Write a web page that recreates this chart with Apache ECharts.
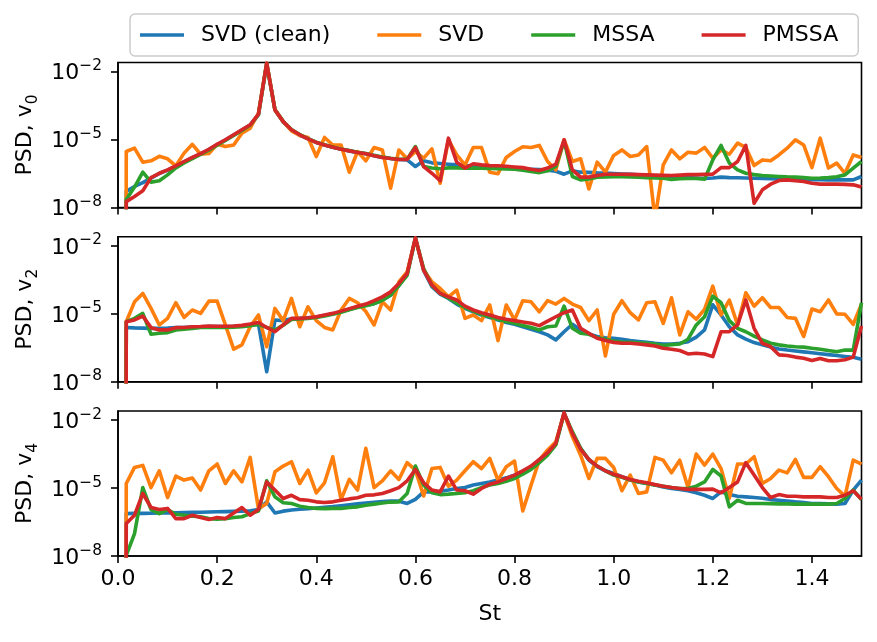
<!DOCTYPE html>
<html><head><meta charset="utf-8">
<script src="https://cdn.jsdelivr.net/npm/echarts@6/dist/echarts.min.js"></script>
<style>html,body{margin:0;padding:0;background:#fff}#c{width:877px;height:642px}</style>
</head><body><div id="c"></div>
<script>
// Frequency bins (Strouhal number), spacing 1/60, from 0 to 1.5
const st = Array.from({length: 91}, (_, i) => i / 60);
// PSD at St = 0 is zero for every series (drawn clipped, like a log plot does)
const psdAtZero = 0;
// log10(PSD) for bins St = 1/60 ... 90/60
const v0_svdClean = [-7.29,-7.07,-6.9,-6.7,-6.5,-6.35,-6.17,-5.98,-5.8,-5.63,
-5.44,-5.22,-5.02,-4.8,-4.58,-4.36,-3.9,-1.65,-3.7,-4.22,
-4.58,-4.8,-4.97,-5.13,-5.24,-5.34,-5.43,-5.5,-5.57,-5.63,
-5.72,-5.79,-5.84,-5.88,-5.9,-6.19,-5.94,-6.03,-6.06,-6.09,
-6.12,-6.15,-6.17,-6.19,-6.21,-6.23,-6.25,-6.27,-6.29,-6.31,
-6.33,-6.35,-6.4,-6.53,-6.38,-6.44,-6.45,-6.47,-6.48,-6.5,
-6.52,-6.54,-6.56,-6.58,-6.6,-6.62,-6.64,-6.66,-6.68,-6.7,
-6.72,-6.7,-6.66,-6.68,-6.69,-6.7,-6.71,-6.72,-6.73,-6.74,
-6.75,-6.76,-6.76,-6.77,-6.77,-6.78,-6.78,-6.78,-6.78,-6.63];
const v0_svd = [-5.53,-5.38,-6.0,-5.94,-5.74,-5.85,-6.16,-5.6,-5.21,-5.65,
-5.62,-5.21,-5.31,-5.24,-4.72,-4.5,-3.84,-1.63,-3.69,-4.21,
-4.62,-4.82,-4.91,-5.75,-4.91,-5.24,-5.24,-6.44,-5.53,-5.94,
-5.35,-5.46,-7.15,-5.46,-5.85,-5.53,-5.82,-5.41,-6.93,-5.01,
-5.68,-6.12,-5.35,-5.35,-6.44,-6.51,-5.79,-5.53,-5.32,-5.35,
-5.26,-5.97,-6.34,-5.01,-5.97,-5.85,-7.18,-6.0,-6.44,-5.7,
-5.46,-5.75,-5.68,-5.31,-8.5,-6.12,-5.46,-5.85,-5.56,-5.6,
-5.35,-5.82,-5.46,-5.65,-5.16,-5.35,-6.15,-5.9,-5.94,-5.68,
-5.38,-5.01,-5.24,-6.24,-4.94,-6.26,-6.04,-6.49,-5.68,-5.79];
const v0_mssa = [-7.65,-7.1,-6.44,-6.88,-6.82,-6.56,-6.25,-6.03,-5.84,-5.66,
-5.47,-5.25,-5.04,-4.82,-4.6,-4.37,-3.9,-1.65,-3.68,-4.2,
-4.56,-4.78,-4.96,-5.12,-5.23,-5.33,-5.42,-5.49,-5.56,-5.62,
-5.7,-5.77,-5.83,-5.87,-5.87,-5.31,-6.19,-6.26,-6.29,-6.25,
-6.25,-6.26,-6.26,-6.27,-6.28,-6.29,-6.3,-6.31,-6.35,-6.41,
-6.46,-6.38,-6.19,-5.06,-6.63,-6.78,-6.74,-6.66,-6.65,-6.64,
-6.64,-6.65,-6.66,-6.68,-6.7,-6.71,-6.76,-6.73,-6.72,-6.72,
-6.75,-5.9,-5.26,-6.04,-6.34,-6.49,-6.55,-6.59,-6.61,-6.63,
-6.65,-6.66,-6.68,-6.71,-6.7,-6.68,-6.64,-6.56,-6.26,-5.97];
const v0_pmssa = [-7.74,-7.51,-7.26,-6.68,-6.49,-6.34,-6.16,-5.97,-5.79,-5.62,
-5.43,-5.21,-5.01,-4.79,-4.57,-4.35,-3.88,-1.63,-3.69,-4.21,
-4.57,-4.79,-4.97,-5.13,-5.24,-5.34,-5.43,-5.5,-5.57,-5.63,
-5.72,-5.79,-5.84,-5.88,-5.88,-5.35,-6.19,-6.49,-6.82,-4.94,
-6.0,-6.26,-6.07,-6.12,-6.15,-6.16,-6.18,-6.21,-6.24,-6.31,
-6.37,-6.26,-6.09,-5.01,-6.34,-6.66,-6.66,-6.59,-6.53,-6.53,
-6.53,-6.54,-6.55,-6.56,-6.57,-6.58,-6.59,-6.57,-6.55,-6.55,
-6.54,-6.53,-6.24,-6.24,-5.97,-5.26,-7.81,-7.22,-6.97,-6.81,
-6.78,-6.82,-6.85,-6.93,-6.97,-6.97,-6.97,-6.98,-7.0,-7.1];
const v2_svdClean = [-5.6,-5.62,-5.63,-5.64,-5.64,-5.63,-5.61,-5.6,-5.58,-5.57,
-5.56,-5.56,-5.56,-5.55,-5.53,-5.5,-5.45,-7.55,-5.27,-5.3,
-5.22,-5.2,-5.17,-5.14,-5.07,-5.0,-4.91,-4.8,-4.7,-4.62,
-4.55,-4.4,-4.18,-3.75,-3.25,-1.66,-3.1,-3.8,-4.13,-4.32,
-4.57,-4.76,-4.91,-5.05,-5.16,-5.27,-5.38,-5.46,-5.57,-5.68,
-5.79,-5.93,-6.15,-5.79,-5.46,-5.71,-5.89,-6.0,-6.06,-6.08,
-6.12,-6.18,-6.22,-6.26,-6.3,-6.33,-6.33,-6.3,-6.23,-6.03,
-5.71,-4.6,-5.05,-5.57,-5.93,-6.12,-6.27,-6.37,-6.47,-6.55,
-6.6,-6.64,-6.68,-6.72,-6.76,-6.8,-6.84,-6.88,-6.92,-7.0];
const v2_svd = [-5.35,-4.47,-4.1,-4.76,-5.49,-5.2,-4.51,-5.16,-4.83,-4.98,
-4.44,-4.44,-5.49,-6.56,-6.37,-5.57,-5.05,-6.45,-4.76,-5.3,
-4.32,-5.57,-4.69,-5.3,-5.6,-5.71,-4.83,-4.32,-4.51,-4.9,
-5.49,-4.47,-4.83,-3.59,-3.15,-1.68,-3.07,-3.59,-3.88,-4.25,
-3.95,-5.2,-5.05,-5.3,-4.61,-6.18,-4.61,-5.27,-4.42,-4.47,
-4.91,-4.42,-4.57,-4.32,-4.57,-4.72,-5.3,-4.83,-6.86,-5.02,
-4.42,-4.95,-5.27,-4.51,-4.47,-5.42,-4.29,-5.93,-4.91,-5.24,
-4.8,-3.78,-5.05,-4.39,-5.49,-4.07,-4.66,-4.29,-4.72,-4.72,
-5.16,-5.2,-6.0,-4.79,-4.91,-4.39,-5.0,-5.02,-5.46,-4.57];
const v2_mssa = [-5.35,-5.2,-4.98,-5.9,-5.86,-5.83,-5.71,-5.68,-5.65,-5.6,
-5.6,-5.6,-5.6,-5.59,-5.57,-5.52,-5.47,-5.6,-5.72,-5.5,
-5.25,-5.23,-5.2,-5.16,-5.09,-5.02,-4.93,-4.82,-4.72,-4.64,
-4.55,-4.4,-4.17,-3.75,-3.3,-1.66,-3.0,-3.75,-4.1,-4.3,
-4.52,-4.72,-4.88,-5.02,-5.13,-5.24,-5.34,-5.42,-5.52,-5.6,
-5.71,-5.57,-5.54,-4.66,-5.64,-5.86,-5.9,-6.05,-6.12,-6.2,
-6.24,-6.26,-6.28,-6.3,-6.33,-6.4,-6.36,-6.33,-6.12,-5.49,
-5.13,-4.22,-4.51,-5.3,-5.64,-5.79,-5.98,-6.15,-6.3,-6.37,
-6.42,-6.45,-6.47,-6.52,-6.56,-6.62,-6.67,-6.6,-6.6,-4.51];
const v2_pmssa = [-5.35,-5.27,-5.1,-5.61,-5.71,-5.71,-5.61,-5.6,-5.57,-5.56,
-5.54,-5.55,-5.55,-5.54,-5.51,-5.45,-5.38,-5.6,-5.79,-5.49,
-5.2,-5.2,-5.17,-5.13,-5.05,-4.98,-4.88,-4.77,-4.67,-4.57,
-4.42,-4.25,-4.03,-3.66,-3.22,-1.64,-3.07,-3.73,-4.1,-4.25,
-4.39,-4.66,-4.83,-4.95,-5.05,-5.16,-5.24,-5.3,-5.36,-5.42,
-5.52,-5.32,-5.13,-4.95,-4.83,-5.64,-5.86,-6.08,-6.18,-6.26,
-6.3,-6.3,-6.33,-6.37,-6.42,-6.52,-6.56,-6.62,-6.77,-6.74,
-6.77,-6.89,-5.79,-5.79,-5.49,-4.39,-5.64,-6.3,-6.45,-6.81,
-6.84,-6.91,-6.96,-7.06,-6.97,-7.07,-7.07,-7.03,-6.91,-5.54];
const v4_svdClean = [-6.13,-6.12,-6.12,-6.11,-6.1,-6.1,-6.09,-6.08,-6.07,-6.07,
-6.06,-6.05,-6.04,-6.03,-6.02,-6.0,-5.95,-5.61,-6.1,-6.02,
-5.97,-5.94,-5.91,-5.88,-5.85,-5.82,-5.78,-5.74,-5.7,-5.66,
-5.63,-5.6,-5.58,-5.58,-5.68,-5.5,-5.17,-5.17,-5.14,-5.09,
-5.02,-4.98,-4.87,-4.8,-4.73,-4.65,-4.55,-4.43,-4.25,-4.06,
-3.77,-3.44,-3.03,-1.7,-2.59,-3.25,-3.77,-4.06,-4.24,-4.36,
-4.5,-4.62,-4.73,-4.8,-4.87,-4.95,-5.02,-5.06,-5.12,-5.21,
-5.32,-5.46,-5.17,-5.29,-5.36,-5.39,-5.42,-5.45,-5.51,-5.54,
-5.57,-5.61,-5.64,-5.68,-5.69,-5.7,-5.71,-5.68,-5.09,-4.65];
const v4_svd = [-4.8,-4.09,-4.0,-4.98,-4.24,-5.42,-4.47,-4.65,-4.56,-5.09,
-4.24,-3.94,-4.8,-4.24,-4.73,-3.65,-5.91,-5.68,-4.28,-4.03,
-3.84,-4.8,-4.21,-5.21,-4.77,-3.62,-5.51,-4.62,-5.09,-3.25,
-4.98,-4.68,-4.24,-4.62,-3.88,-4.21,-5.35,-4.14,-4.09,-4.92,
-4.65,-4.24,-3.84,-4.14,-3.69,-4.65,-4.06,-3.81,-6.01,-4.87,
-3.77,-3.32,-2.96,-1.7,-2.73,-3.55,-4.58,-3.69,-3.69,-4.09,
-5.12,-4.43,-5.24,-5.17,-3.65,-3.77,-4.33,-3.77,-4.98,-3.5,
-3.99,-3.5,-4.14,-5.46,-3.94,-3.94,-3.62,-4.8,-4.58,-4.21,
-4.33,-3.74,-4.53,-4.53,-4.06,-4.5,-5.02,-5.36,-3.77,-3.94];
const v4_mssa = [-7.97,-7.01,-4.98,-5.95,-6.13,-5.95,-6.16,-6.2,-6.24,-6.27,
-6.35,-6.38,-6.35,-6.3,-6.27,-6.13,-6.02,-4.68,-5.39,-5.65,
-5.68,-5.8,-5.86,-5.9,-5.91,-5.9,-5.9,-5.86,-5.83,-5.76,
-5.71,-5.66,-5.62,-5.61,-5.24,-4.03,-4.87,-5.21,-5.29,-5.27,
-5.24,-5.21,-5.12,-4.98,-4.87,-4.8,-4.7,-4.58,-4.39,-4.18,
-3.88,-3.55,-3.1,-1.7,-2.51,-3.25,-3.74,-4.03,-4.24,-4.43,
-4.53,-4.65,-4.73,-4.8,-4.87,-4.92,-4.98,-5.02,-5.02,-4.92,
-4.73,-4.18,-4.47,-5.83,-5.54,-5.68,-5.68,-5.68,-5.69,-5.7,
-5.7,-5.71,-5.71,-5.71,-5.71,-5.71,-5.68,-5.46,-5.09,-5.51];
const v4_pmssa = [-6.57,-6.2,-5.24,-5.86,-5.95,-5.9,-6.35,-6.35,-6.2,-6.3,
-6.39,-6.3,-6.35,-6.1,-5.86,-6.2,-5.95,-4.73,-5.09,-5.46,
-5.32,-5.51,-5.54,-5.61,-5.64,-5.61,-5.54,-5.48,-5.43,-5.32,
-5.3,-5.24,-5.12,-4.98,-4.68,-4.18,-4.77,-5.09,-5.17,-4.47,
-5.09,-5.12,-5.27,-5.02,-4.83,-4.73,-4.58,-4.43,-4.24,-4.03,
-3.74,-3.44,-3.03,-1.68,-2.59,-3.29,-3.74,-4.03,-4.24,-4.39,
-4.5,-4.62,-4.7,-4.77,-4.85,-4.92,-4.98,-5.02,-5.06,-5.06,
-5.06,-5.05,-5.21,-4.98,-4.73,-3.88,-4.43,-4.98,-5.42,-5.29,
-5.36,-5.36,-5.39,-5.39,-5.39,-5.42,-5.42,-5.32,-5.12,-5.5];

const seriesNames = ['SVD (clean)', 'SVD', 'MSSA', 'PMSSA'];
const colors = ['#1f77b4', '#ff7f0e', '#2ca02c', '#d62728'];
const panelSubscripts = ['0', '2', '4'];
const panelData = [
  [v0_svdClean, v0_svd, v0_mssa, v0_pmssa],
  [v2_svdClean, v2_svd, v2_mssa, v2_pmssa],
  [v4_svdClean, v4_svd, v4_mssa, v4_pmssa]
];
const xTickValues = [0, 0.2, 0.4, 0.6, 0.8, 1.0, 1.2, 1.4];
const yTickValues = [1e-8, 1e-5, 1e-2];
const xName = 'St';

// layout
const FONT = 'DejaVu Sans';
const FS = 22;
const LW = 3.6;
const gridTops = [62.5, 236.8, 411];
const gridH = 145;
const yMin = 1e-8, yMax = Math.pow(10, -1.6);
const LOG_CLIP = 1e-300; // non-positive values clipped far below the axis

function buildData(arr) {
  const pts = [[st[0], psdAtZero > 0 ? psdAtZero : LOG_CLIP]];
  arr.forEach((e, k) => {
    const v = Math.pow(10, e);
    pts.push([st[k + 1], v > 0 ? v : LOG_CLIP]);
  });
  return pts;
}

function yLabel(v) {
  const e = Math.round(Math.log10(v));
  return '{b|10}{s|' + (e < 0 ? '\u2212' : '') + Math.abs(e) + '}';
}

const grids = [], xAxes = [], yAxes = [], series = [];
gridTops.forEach((top, p) => {
  grids.push({left: 118, right: 15.5, top: top, height: gridH,
    show: true, borderColor: '#000', borderWidth: 1.6, backgroundColor: 'transparent'});
  const isBottom = p === gridTops.length - 1;
  xAxes.push({
    type: 'value', gridIndex: p, min: 0, max: 1.5,
    axisLine: {show: true, lineStyle: {color: '#000', width: 1.6}},
    axisTick: {show: true, length: 7, customValues: xTickValues, lineStyle: {color: '#000', width: 1.6}},
    axisLabel: {show: isBottom, customValues: xTickValues, margin: 12, color: '#000',
      fontFamily: FONT, fontSize: FS, formatter: v => v.toFixed(1)},
    splitLine: {show: false},
    name: isBottom ? xName : '', nameLocation: 'middle', nameGap: 47,
    nameTextStyle: {fontFamily: FONT, fontSize: FS, color: '#000'}
  });
  yAxes.push({
    type: 'log', logBase: 10, gridIndex: p, min: yMin, max: yMax,
    axisLine: {show: true, lineStyle: {color: '#000', width: 1.6}},
    axisTick: {show: true, length: 7, customValues: yTickValues, lineStyle: {color: '#000', width: 1.6}},
    axisLabel: {show: true, customValues: yTickValues, margin: 16, formatter: yLabel,
      rich: {
        b: {fontFamily: FONT, fontSize: FS, color: '#000', lineHeight: 26, verticalAlign: 'bottom'},
        s: {fontFamily: FONT, fontSize: FS * 0.7, color: '#000', lineHeight: 15, verticalAlign: 'top'}
      }},
    splitLine: {show: false}, minorTick: {show: false},
    name: '{a|PSD, v}{s|' + panelSubscripts[p] + '}',
    nameLocation: 'middle', nameRotate: 90, nameGap: 70,
    nameTextStyle: {rich: {
      a: {fontFamily: FONT, fontSize: FS, color: '#000', lineHeight: 26, verticalAlign: 'top'},
      s: {fontFamily: FONT, fontSize: FS * 0.7, color: '#000', lineHeight: 15, verticalAlign: 'bottom'}
    }}
  });
  panelData[p].forEach((arr, s) => {
    series.push({
      name: seriesNames[s], type: 'line', xAxisIndex: p, yAxisIndex: p,
      data: buildData(arr), symbol: 'none', showSymbol: false, clip: true,
      lineStyle: {color: colors[s], width: LW, join: 'round'},
      itemStyle: {color: colors[s]},
      emphasis: {disabled: true}, silent: true
    });
  });
});

const chart = echarts.init(document.getElementById('c'), null, {renderer: 'canvas'});
chart.setOption({
  animation: false,
  backgroundColor: '#fff',
  color: colors,
  grid: grids, xAxis: xAxes, yAxis: yAxes, series: series,
  legend: {
    data: seriesNames.map(n => ({name: n, icon: 'rect'})), left: 130, top: 14,
    itemWidth: 44, itemHeight: LW, itemGap: 47,
    padding: [10, 20, 10, 10],
    borderColor: '#cccccc', borderWidth: 1.5, borderRadius: 5,
    backgroundColor: 'rgba(255,255,255,0.8)',
    textStyle: {fontFamily: FONT, fontSize: FS, color: '#000', padding: [0, 0, 0, 12], lineHeight: 22},
    selectedMode: false
  }
});
</script></body></html>
